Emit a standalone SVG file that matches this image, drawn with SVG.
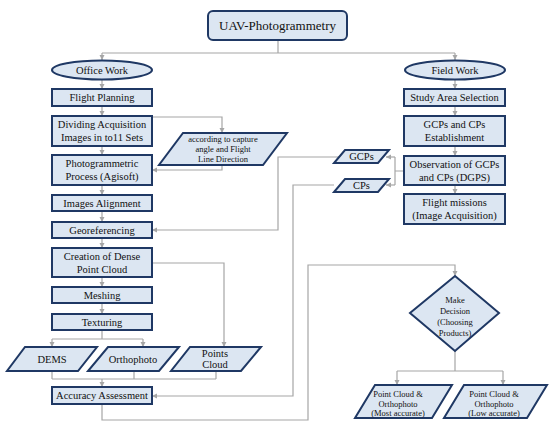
<svg xmlns="http://www.w3.org/2000/svg" width="550" height="430" viewBox="0 0 550 430">
<defs>
<marker id="ah" markerWidth="6" markerHeight="6" refX="5" refY="3" orient="auto" markerUnits="userSpaceOnUse">
<path d="M0,0.5 L5,3 L0,5.5 Z" fill="#a6a6a6"/>
</marker>
<style>
.n{fill:#dce6f2;stroke:#1f3864;stroke-width:2}
.c{fill:none;stroke:#a6a6a6;stroke-width:1.2}
.a{marker-end:url(#ah)}
text{fill:#111;text-anchor:middle}
.t{font-size:10.5px}
.s{font-size:8.5px}
.h{font-size:13px}
</style>
</defs>
<rect width="550" height="430" fill="#fff"/>
<g id="connectors">
<path class="c" d="M278,40 V53 M102,53 H455"/>
<path class="c a" d="M102,53 V60"/>
<path class="c a" d="M455,53 V60"/>
<path class="c a" d="M102,79 V89"/>
<path class="c a" d="M102,106 V116"/>
<path class="c a" d="M102,146 V155"/>
<path class="c a" d="M152,117 H222 V133"/>
<path class="c a" d="M222,165 V170 H152"/>
<path class="c a" d="M102,185 V195"/>
<path class="c a" d="M102,211 V222"/>
<path class="c a" d="M339,157 H278 V230 H152"/>
<path class="c a" d="M102,238 V248"/>
<path class="c a" d="M152,263 H224 V347"/>
<path class="c a" d="M102,277 V287"/>
<path class="c a" d="M102,303 V314"/>
<path class="c" d="M102,330 V339 M52,339 H143"/>
<path class="c a" d="M52,339 V347"/>
<path class="c a" d="M143,339 V347"/>
<path class="c" d="M52,371 V379 M134,371 V379 M216,371 V379 M52,379 H216"/>
<path class="c a" d="M102,379 V387"/>
<path class="c a" d="M334,185 H293 V396 H152"/>
<path class="c a" d="M102,404 V420 H308 V265 H455 V276"/>
<path class="c a" d="M455,79 V89"/>
<path class="c a" d="M455,106 V116"/>
<path class="c a" d="M455,146 V156"/>
<path class="c a" d="M455,185 V194"/>
<path class="c" d="M404,171 H395 M395,157 V185"/>
<path class="c a" d="M395,157 H386"/>
<path class="c a" d="M395,185 H386"/>
<path class="c" d="M455,351 V371 M397,371 H503"/>
<path class="c a" d="M397,371 V385"/>
<path class="c a" d="M503,371 V385"/>
</g>
<g font-family="'Liberation Serif', 'DejaVu Serif', 'Times New Roman', serif">
<g id="title"><rect class="n" x="208" y="11" width="139" height="29" rx="5"/><text class="h" x="277.5" y="30">UAV-Photogrammetry</text></g>
<g id="office"><ellipse class="n" cx="102" cy="70" rx="50" ry="9.5"/><text class="t" x="102" y="73.5">Office Work</text></g>
<g id="field"><ellipse class="n" cx="455" cy="70" rx="50" ry="9.5"/><text class="t" x="455" y="73.5">Field Work</text></g>
<g id="flightplanning"><rect class="n" x="52" y="89" width="100" height="17"/><text class="t" x="102" y="101">Flight Planning</text></g>
<g id="dividing"><rect class="n" x="52" y="116" width="100" height="30"/><text class="t" x="102" y="128">Dividing Acquisition</text><text class="t" x="102" y="141">Images in to11 Sets</text></g>
<g id="according"><path class="n" d="M183,133 H287 L263,165 H159 Z"/><text class="s" x="223" y="142">according to capture</text><text class="s" x="223" y="152">angle and Flight</text><text class="s" x="223" y="162">Line Direction</text></g>
<g id="photogrammetric"><rect class="n" x="52" y="155" width="100" height="30"/><text class="t" x="102" y="167">Photogrammetric</text><text class="t" x="102" y="180">Process (Agisoft)</text></g>
<g id="alignment"><rect class="n" x="52" y="195" width="100" height="16"/><text class="t" x="102" y="206.5">Images Alignment</text></g>
<g id="georef"><rect class="n" x="52" y="222" width="100" height="16"/><text class="t" x="102" y="233.5">Georeferencing</text></g>
<g id="dense"><rect class="n" x="52" y="248" width="100" height="29"/><text class="t" x="102" y="260">Creation of Dense</text><text class="t" x="102" y="273">Point Cloud</text></g>
<g id="meshing"><rect class="n" x="52" y="287" width="100" height="16"/><text class="t" x="102" y="298.5">Meshing</text></g>
<g id="texturing"><rect class="n" x="52" y="314" width="100" height="16"/><text class="t" x="102" y="325.5">Texturing</text></g>
<g id="dems"><path class="n" d="M25,347 H97 L78,371 H7 Z"/><text class="t" x="52" y="362.5">DEMS</text></g>
<g id="ortho"><path class="n" d="M108,347 H179 L159,371 H88 Z"/><text class="t" x="133" y="362.5">Orthophoto</text></g>
<g id="pointscloud"><path class="n" d="M190,347 H261 L241,371 H171 Z"/><text class="t" x="215" y="357">Points</text><text class="t" x="215" y="368">Cloud</text></g>
<g id="accuracy"><rect class="n" x="52" y="387" width="100" height="17"/><text class="t" x="102" y="399">Accuracy Assessment</text></g>
<g id="study"><rect class="n" x="404" y="89" width="101" height="17"/><text class="t" x="454.5" y="101">Study Area Selection</text></g>
<g id="establish"><rect class="n" x="404" y="116" width="101" height="30"/><text class="t" x="454.5" y="128">GCPs and CPs</text><text class="t" x="454.5" y="141">Establishment</text></g>
<g id="observation"><rect class="n" x="404" y="156" width="101" height="29"/><text class="t" x="454.5" y="168">Observation of GCPs</text><text class="t" x="454.5" y="181">and CPs (DGPS)</text></g>
<g id="missions"><rect class="n" x="404" y="194" width="101" height="30"/><text class="t" x="454.5" y="206">Flight missions</text><text class="t" x="454.5" y="219">(Image Acquisition)</text></g>
<g id="gcps"><path class="n" d="M345,150 H389 L378,163 H334 Z"/><text class="t" x="361.5" y="160">GCPs</text></g>
<g id="cps"><path class="n" d="M345,179 H389 L378,192 H334 Z"/><text class="t" x="361.5" y="189">CPs</text></g>
<g id="decision"><path class="n" d="M455,276 L499,313 L455,351 L410,313 Z"/><text class="s" x="455" y="303">Make</text><text class="s" x="455" y="314">Decision</text><text class="s" x="455" y="325">(Choosing</text><text class="s" x="455" y="336">Products)</text></g>
<g id="most"><path class="n" d="M375,385 H452 L432,418 H355 Z"/><text class="s" x="398" y="397">Point Cloud &amp;</text><text class="s" x="398" y="407">Orthophoto</text><text class="s" x="398" y="416">(Most accurate)</text></g>
<g id="low"><path class="n" d="M464,385 H547 L527,418 H444 Z"/><text class="s" x="494" y="397">Point Cloud &amp;</text><text class="s" x="494" y="407">Orthophoto</text><text class="s" x="494" y="416">(Low accurate)</text></g>
</g>
</svg>
